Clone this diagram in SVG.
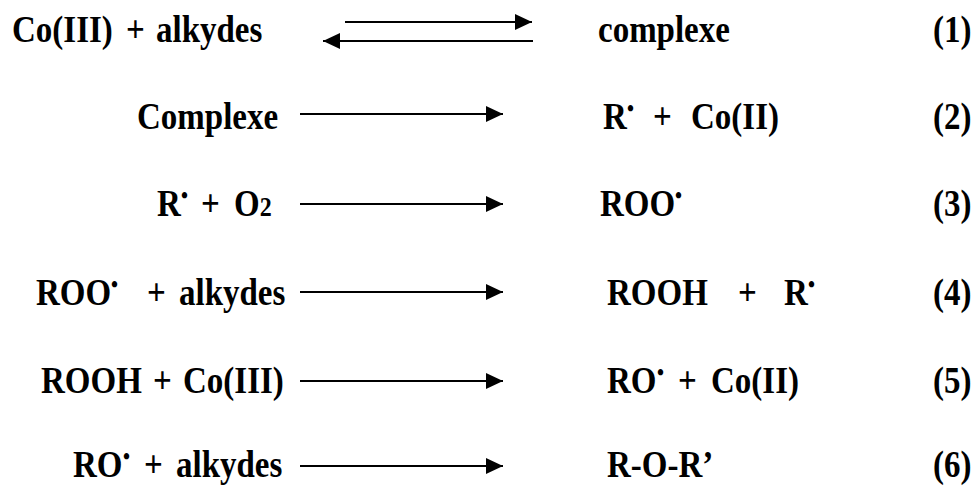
<svg xmlns="http://www.w3.org/2000/svg" width="975" height="486" viewBox="0 0 975 486">
<style>
text{font-family:"Liberation Serif","Times New Roman",serif;font-weight:bold;font-size:33px;fill:#000}
.dot{font-size:20px}
.sub{font-size:24px}
.ln{stroke:#000;stroke-width:2.2;fill:none}
</style>
<defs>
<marker id="ah" viewBox="0 0 17 16" refX="17" refY="8" markerWidth="17" markerHeight="16" markerUnits="userSpaceOnUse" orient="auto">
<path d="M0,0 L17,8 L0,16 z" fill="#000"/>
</marker>
</defs>
<rect width="975" height="486" fill="#fff"/>
<g id="connectors">
<line class="ln" x1="345" y1="22" x2="532" y2="22" marker-end="url(#ah)"/>
<line class="ln" x1="533" y1="41" x2="323" y2="41" marker-end="url(#ah)"/>
<line class="ln" x1="300" y1="114" x2="503" y2="114" marker-end="url(#ah)"/>
<line class="ln" x1="300" y1="204" x2="503" y2="204" marker-end="url(#ah)"/>
<line class="ln" x1="300" y1="292" x2="503" y2="292" marker-end="url(#ah)"/>
<line class="ln" x1="300" y1="381" x2="503" y2="381" marker-end="url(#ah)"/>
<line class="ln" x1="300" y1="466" x2="503" y2="466" marker-end="url(#ah)"/>
</g>
<g id="r1-reactants" transform="translate(0,42) scale(1,1.15)">
<text x="12" y="0">Co(III)</text><text x="126" y="0">+</text><text x="156" y="0">alkydes</text>
</g>
<g id="r1-products" transform="translate(0,42) scale(1,1.15)">
<text x="598" y="0">complexe</text>
</g>
<g id="r1-label" transform="translate(0,42) scale(1,1.15)"><text x="933" y="0">(1)</text></g>
<g id="r2-reactants" transform="translate(0,129) scale(1,1.15)">
<text x="137" y="0">Complexe</text>
</g>
<g id="r2-products" transform="translate(0,129) scale(1,1.15)">
<text x="603" y="0">R</text><text class="dot" x="627" y="-11">•</text><text x="653" y="0">+</text><text x="691" y="0">Co(II)</text>
</g>
<g id="r2-label" transform="translate(0,129) scale(1,1.15)"><text x="933" y="0">(2)</text></g>
<g id="r3-reactants" transform="translate(0,216) scale(1,1.15)">
<text x="157" y="0">R</text><text class="dot" x="181" y="-11">•</text><text x="201" y="0">+</text><text x="234" y="0">O<tspan class="sub">2</tspan></text>
</g>
<g id="r3-products" transform="translate(0,216) scale(1,1.15)">
<text x="600" y="0">ROO</text><text class="dot" x="675" y="-11">•</text>
</g>
<g id="r3-label" transform="translate(0,216) scale(1,1.15)"><text x="933" y="0">(3)</text></g>
<g id="r4-reactants" transform="translate(0,305) scale(1,1.15)">
<text x="36" y="0">ROO</text><text class="dot" x="111" y="-11">•</text><text x="147" y="0">+</text><text x="179" y="0">alkydes</text>
</g>
<g id="r4-products" transform="translate(0,305) scale(1,1.15)">
<text x="607" y="0">ROOH</text><text x="738" y="0">+</text><text x="784" y="0">R</text><text class="dot" x="808" y="-11">•</text>
</g>
<g id="r4-label" transform="translate(0,305) scale(1,1.15)"><text x="933" y="0">(4)</text></g>
<g id="r5-reactants" transform="translate(0,393) scale(1,1.15)">
<text x="41" y="0">ROOH</text><text x="153" y="0">+</text><text x="183" y="0">Co(III)</text>
</g>
<g id="r5-products" transform="translate(0,393) scale(1,1.15)">
<text x="607" y="0">RO</text><text class="dot" x="657" y="-11">•</text><text x="678" y="0">+</text><text x="711" y="0">Co(II)</text>
</g>
<g id="r5-label" transform="translate(0,393) scale(1,1.15)"><text x="933" y="0">(5)</text></g>
<g id="r6-reactants" transform="translate(0,477) scale(1,1.15)">
<text x="73" y="0">RO</text><text class="dot" x="123" y="-11">•</text><text x="144" y="0">+</text><text x="176" y="0">alkydes</text>
</g>
<g id="r6-products" transform="translate(0,477) scale(1,1.15)">
<text x="607" y="0">R-O-R’</text>
</g>
<g id="r6-label" transform="translate(0,477) scale(1,1.15)"><text x="933" y="0">(6)</text></g>
</svg>
